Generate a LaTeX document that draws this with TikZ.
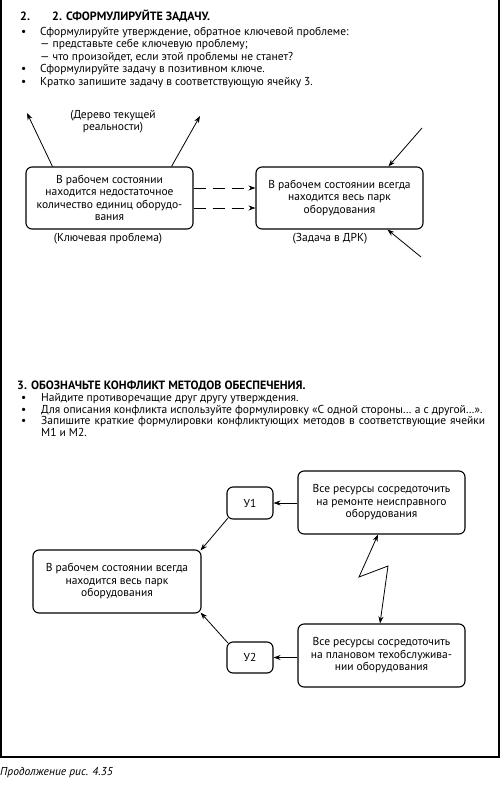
\documentclass[tikz,border=0pt]{standalone}
\usepackage{fontspec}
\setmainfont{PT Sans}
\usetikzlibrary{arrows.meta}
\newcommand\myfs{\fontsize{11.5}{12.5}\selectfont}
\newcommand\myttl{\fontsize{12}{12.5}\selectfont}
\begin{document}
\begin{tikzpicture}[x=1pt,y=-1pt,
  txt/.style={anchor=base west, inner sep=0pt, font=\myfs},
  ttl/.style={anchor=base west, inner sep=0pt, font=\myttl\bfseries},
  lbl/.style={inner sep=0pt, font=\myfs, align=center},
  box/.style={draw, rounded corners=6pt, line width=1.1pt, align=center, font=\myfs, inner sep=0pt},
  arr/.style={line width=0.8pt, -{Stealth[length=7pt,width=5pt]}},
  dbl/.style={line width=0.8pt, {Stealth[length=7pt,width=5pt]}-{Stealth[length=7pt,width=5pt]}},
  dsh/.style={line width=0.8pt, dash pattern=on 12pt off 7pt, -{Stealth[length=7pt,width=5pt]}},
  ]
\useasboundingbox (0,0) rectangle (500,785);
\draw[line width=1.3pt] (1,0) -- (1,757) -- (499,757) -- (499,0);

% Section 2 header
\node[ttl] (n2a) at (20,20.5) {2.};
\node[ttl] (n2b) at (52,20.5) {2. СФОРМУЛИРУЙТЕ ЗАДАЧУ.};
\node[txt] (b1) at (21,35) {•};
\node[txt] (l1) at (40,35) {Сформулируйте утверждение, обратное ключевой проблеме:};
\node[txt] (l2) at (40,47.5) {— представьте себе ключевую проблему;};
\node[txt] (l3) at (40,60) {— что произойдет, если этой проблемы не станет?};
\node[txt] (b2) at (21,72.5) {•};
\node[txt] (l4) at (40,72.5) {Сформулируйте задачу в позитивном ключе.};
\node[txt] (b3) at (21,85) {•};
\node[txt] (l5) at (40,85) {Кратко запишите задачу в соответствующую ячейку 3.};

% Section 2 diagram
\node[box, minimum width=167pt, minimum height=62pt] (kp) at (109.5,198)
  {В рабочем состоянии\\находится недостаточное\\количество единиц оборудо-\\вания};
\node[box, minimum width=167pt, minimum height=62pt] (zd) at (339.5,198)
  {В рабочем состоянии всегда\\находится весь парк\\оборудования};
\node[lbl] (kpl) at (108,239) {(Ключевая проблема)};
\node[lbl] (zdl) at (330,239) {(Задача в ДРК)};
\node[lbl] (dtr) at (113,121.5) {(Дерево текущей\\реальности)};

\coordinate (a1) at (27,113);
\coordinate (a2) at (200,116);
\coordinate (a3) at (422,128);
\coordinate (a4) at (421,257);
\draw[arr] ([xshift=27pt]kp.north west) -- (a1);
\draw[arr] ([xshift=-22pt]kp.north east) -- (a2);
\draw[arr] (a3) -- ([xshift=133pt]zd.north west);
\draw[arr] (a4) -- ([xshift=132pt]zd.south west);
\draw[dsh] ([yshift=10pt]kp.east) -- ([yshift=10pt]zd.west);
\draw[dsh] ([yshift=-10pt]kp.east) -- ([yshift=-10pt]zd.west);

% Section 3 header
\node[ttl] (n3) at (17,389.5) {3. ОБОЗНАЧЬТЕ КОНФЛИКТ МЕТОДОВ ОБЕСПЕЧЕНИЯ.};
\node[txt] (c1) at (21,401) {•};
\node[txt] (m1) at (41,401) {Найдите противоречащие друг другу утверждения.};
\node[txt] (c2) at (21,413) {•};
\node[txt] (m2) at (41,413) {Для описания конфликта используйте формулировку «С одной стороны… а с другой…».};
\node[txt] (c3) at (21,424.5) {•};
\node[txt] (m3) at (41,424.5) {\makebox[444pt][s]{Запишите краткие формулировки конфликтующих методов в соответствующие ячейки}};
\node[txt] (m4) at (41,436) {М1 и М2.};

% Section 3 diagram
\node[box, minimum width=46pt, minimum height=32pt] (y1) at (250,503) {У1};
\node[box, minimum width=46pt, minimum height=31pt] (y2) at (250,657.5) {У2};
\node[box, minimum width=167pt, minimum height=63pt] (tr) at (381.5,502.5)
  {Все ресурсы сосредоточить\\на ремонте неисправного\\оборудования};
\node[box, minimum width=167pt, minimum height=63pt] (br) at (381.5,655.5)
  {Все ресурсы сосредоточить\\на плановом техобслужива-\\нии оборудования};
\node[box, minimum width=168pt, minimum height=63pt] (lb) at (117,581.5)
  {В рабочем состоянии всегда\\находится весь парк\\оборудования};

\draw[arr] (y1.east -| tr.west) -- (y1.east);
\draw[arr] (y2.east -| br.west) -- (y2.east);
\draw[arr] ([xshift=1.5pt,yshift=1.5pt]y1.south west) -- ([xshift=-1pt,yshift=-1pt]lb.north east);
\draw[arr] ([xshift=1.5pt,yshift=-1.5pt]y2.north west) -- ([xshift=-1pt,yshift=1pt]lb.south east);
\coordinate (z1) at (359,577);
\coordinate (z2) at (388,566);
\draw[dbl] ([xshift=-3.5pt]tr.south) -- (z1) -- (z2) -- ([xshift=-1.5pt]br.north);

% Caption
\node[anchor=base west, inner sep=0pt, font=\fontsize{11.5}{13}\selectfont\itshape] (cap) at (0,775) {Продолжение рис. 4.35};
\end{tikzpicture}
\end{document}
